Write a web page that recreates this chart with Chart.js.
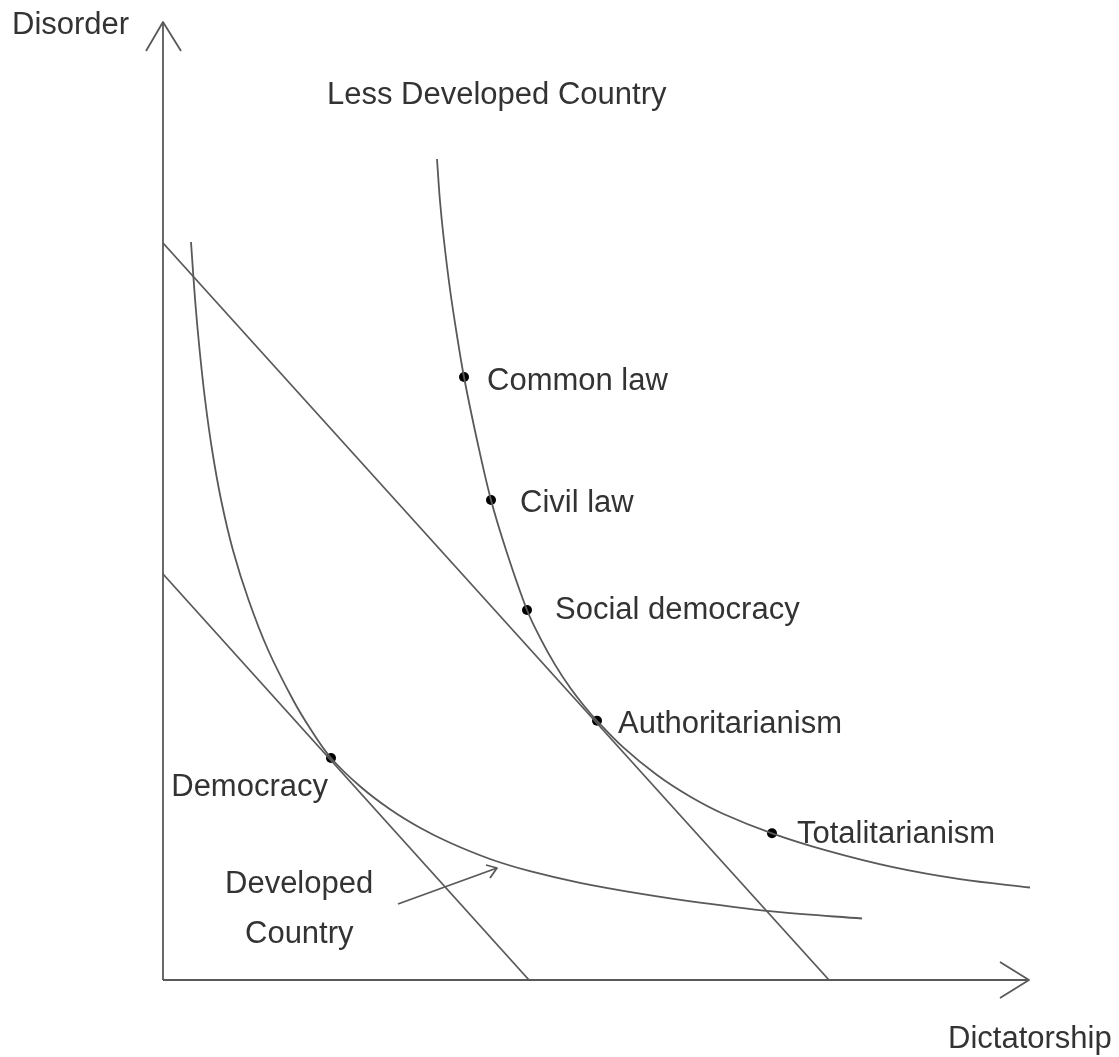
<!DOCTYPE html>
<html>
<head>
<meta charset="utf-8">
<style>
html,body{margin:0;padding:0;background:#ffffff;}
canvas{display:block;}
</style>
<script src="https://cdn.jsdelivr.net/npm/chart.js@4.4.0/dist/chart.umd.min.js"></script>
</head>
<body>
<canvas id="c" width="1119" height="1057"></canvas>
<script>
// ---- Data (x = Dictatorship, y = Disorder) ----
const developedCurve = [
  [2.8,73.8],[3.21,68.0],[3.66,63.0],[4.21,58.0],[4.91,53.0],[5.81,48.0],[6.99,43.0],
  [8.56,38.0],[10.51,33.0],[13.01,28.0],[14.75,25.1],[16.8,22.2],[19.7,19.37],[22.7,17.07],
  [25.7,15.22],[28.7,13.72],[32.7,12.1],[36.7,10.88],[41.7,9.72],[47.7,8.64],[53.7,7.74],
  [61.7,6.78],[69.9,6.15]
];
const lessDevelopedCurve = [
  [27.4,82.1],[27.69,78.0],[28.09,74.0],[28.71,69.0],[29.39,64.5],[30.1,60.3],[31.4,54.0],
  [32.8,48.0],[34.4,42.7],[36.4,37.0],[37.7,34.24],[39.2,31.54],[40.7,29.25],[42.2,27.3],
  [43.4,25.92],[46.0,23.29],[49.4,20.5],[52.7,18.35],[56.0,16.63],[60.9,14.67],[66.4,12.94],
  [73.0,11.29],[79.7,10.09],[86.7,9.25]
];
const upperLine = [[0,73.7],[66.6,0]];
const lowerLine = [[0,40.6],[36.6,0]];
const yAxisLine = [[0,0],[0,95.8]];
const yAxisHead = [[-1.7,92.9],[0,95.8],[1.8,92.9]];
const xAxisLine = [[0,0],[86.6,0]];
const xAxisHead = [[83.7,1.8],[86.6,0],[83.7,-1.8]];
const developedArrow = [[23.5,7.6],[33.4,11.2]];
const developedArrowHead = [[32.3,11.5],[33.4,11.2],[32.7,10.2]];

const systemNames = ["Common law","Civil law","Social democracy","Authoritarianism","Totalitarianism","Democracy"];
const systemPoints = [[30.1,60.3],[32.8,48.0],[36.4,37.0],[43.4,25.92],[60.9,14.67],[16.8,22.2]];

const freeTexts = ["Disorder","Less Developed Country","Developed","Country","Dictatorship"];
const freeTextAnchors = [[-15.1,94.6],[16.4,87.6],[6.2,8.7],[8.2,3.7],[78.5,-6.8]];

// ---- Presentation ----
const LINE = '#595959';
const TEXT = '#333333';
const FONT = '31px "Liberation Sans", Arial, sans-serif';
// label offsets in pixels relative to the dot (dx, dy, align)
const labelOffsets = [[23,13,'left'],[29,12,'left'],[28,9,'left'],[21,12,'left'],[25,10,'left'],[-3,38,'right']];

const toXY = arr => arr.map(p => ({x:p[0], y:p[1]}));
function lineSet(arr, curve) {
  return {
    type:'line', data: toXY(arr), showLine:true, fill:false,
    borderColor: LINE, borderWidth: 1.8, pointRadius: 0, pointHoverRadius:0,
    cubicInterpolationMode: 'default', tension: curve ? 0.35 : 0,
    borderJoinStyle:'round', borderCapStyle:'butt'
  };
}

const textPlugin = {
  id:'texts',
  afterDatasetsDraw(chart) {
    const {ctx, scales:{x, y}} = chart;
    ctx.save();
    ctx.font = FONT;
    ctx.fillStyle = TEXT;
    ctx.textBaseline = 'alphabetic';
    systemNames.forEach((name, i) => {
      const px = x.getPixelForValue(systemPoints[i][0]);
      const py = y.getPixelForValue(systemPoints[i][1]);
      const o = labelOffsets[i];
      ctx.textAlign = o[2];
      ctx.fillText(name, px + o[0], py + o[1]);
    });
    ctx.textAlign = 'left';
    freeTexts.forEach((t, i) => {
      ctx.fillText(t, x.getPixelForValue(freeTextAnchors[i][0]), y.getPixelForValue(freeTextAnchors[i][1]));
    });
    ctx.restore();
  }
};

new Chart(document.getElementById('c'), {
  type:'scatter',
  data:{
    datasets:[
      lineSet(yAxisLine,false), lineSet(yAxisHead,false),
      lineSet(xAxisLine,false), lineSet(xAxisHead,false),
      lineSet(upperLine,false), lineSet(lowerLine,false),
      lineSet(developedCurve,true), lineSet(lessDevelopedCurve,true),
      lineSet(developedArrow,false), lineSet(developedArrowHead,false),
      {
        type:'scatter', data: toXY(systemPoints), showLine:false,
        pointRadius:5, pointBackgroundColor:'#000', pointBorderColor:'#000', pointBorderWidth:0
      }
    ]
  },
  options:{
    responsive:false,
    animation:false,
    devicePixelRatio:1,
    layout:{padding:0, autoPadding:false},
    events:[],
    plugins:{legend:{display:false}, tooltip:{enabled:false}},
    scales:{
      x:{type:'linear', min:-16.3, max:95.6, display:false},
      y:{type:'linear', min:-7.7, max:98.0, display:false}
    }
  },
  plugins:[textPlugin]
});
</script>
</body>
</html>
